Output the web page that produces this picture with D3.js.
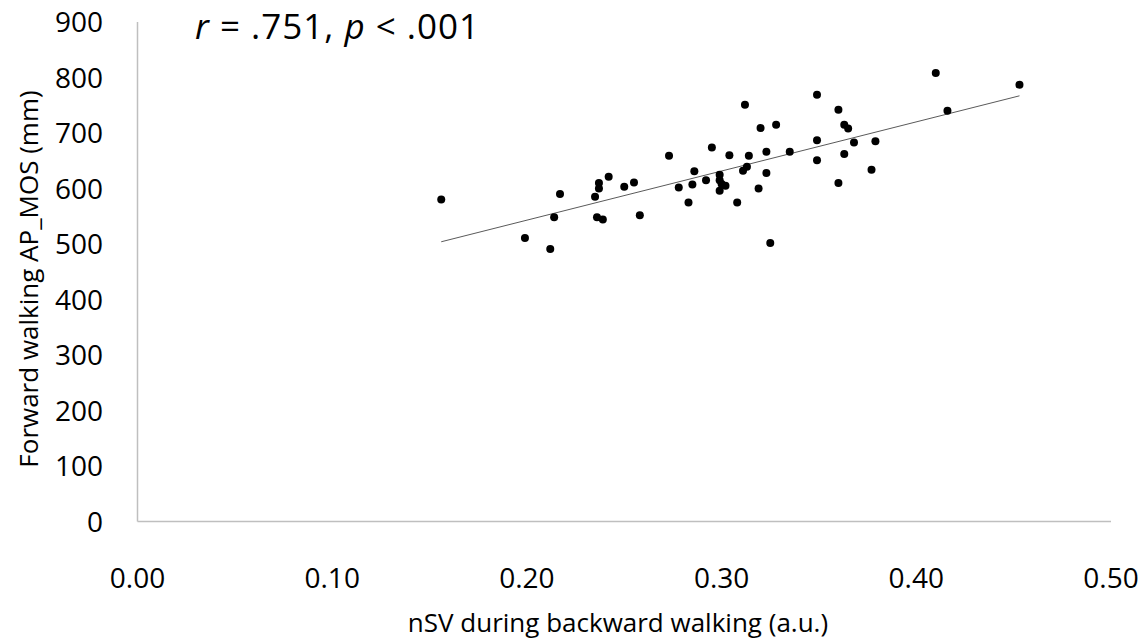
<!DOCTYPE html>
<html>
<head>
<meta charset="utf-8">
<script src="https://cdn.jsdelivr.net/npm/d3@7"></script>
<style>
  html, body { margin: 0; padding: 0; background: #fff; }
  text { font-family: "Open Sans", "Lato", sans-serif; fill: #000; }
</style>
</head>
<body>
<svg id="chart" width="1148" height="639"></svg>
<script>
// nSV during backward walking (a.u.)
const nsvValues = [0.156,0.199,0.212,0.214,0.217,0.235,0.236,0.237,0.237,0.239,0.242,0.250,0.255,0.258,0.273,0.278,0.283,0.285,0.286,0.292,0.295,0.299,0.299,0.300,0.302,0.299,0.304,0.308,0.311,0.312,0.313,0.314,0.319,0.320,0.323,0.323,0.325,0.328,0.335,0.349,0.349,0.349,0.360,0.360,0.363,0.363,0.365,0.368,0.377,0.379,0.410,0.416,0.453];
// Forward walking AP_MOS (mm)
const mosValues = [580,511,491,548,590,585,548,600,610,544,621,603,611,552,659,602,575,607,631,615,674,625,615,608,605,596,660,575,632,751,639,659,600,709,666,628,502,715,666,769,687,651,742,610,715,662,708,683,634,685,808,740,787];
// Linear trendline endpoints
const trendX = [0.156, 0.453];
const trendY = [504, 767];
const xTicks = [0, 0.1, 0.2, 0.3, 0.4, 0.5];
const yTicks = [0, 100, 200, 300, 400, 500, 600, 700, 800, 900];

const svg = d3.select("#chart");
const x = d3.scaleLinear().domain([0, 0.5]).range([137.5, 1111]);
const y = d3.scaleLinear().domain([0, 900]).range([521.5, 22]);

// axes lines
svg.append("line").attr("x1", x(0)).attr("x2", x(0)).attr("y1", y(900)).attr("y2", y(0))
  .attr("stroke", "#bfbfbf").attr("stroke-width", 1.5);
svg.append("line").attr("x1", x(0)).attr("x2", x(0.5)).attr("y1", y(0)).attr("y2", y(0))
  .attr("stroke", "#bfbfbf").attr("stroke-width", 1.5);

// tick labels
svg.selectAll("text.xt").data(xTicks).enter().append("text")
  .attr("class", "xt").attr("x", d => x(d)).attr("y", 588)
  .attr("text-anchor", "middle").attr("font-size", 28)
  .text(d => d3.format(".2f")(d));
svg.selectAll("text.yt").data(yTicks).enter().append("text")
  .attr("class", "yt").attr("x", 103).attr("y", d => y(d) + 10)
  .attr("text-anchor", "end").attr("font-size", 28)
  .text(d => d);

// axis titles
svg.append("text").attr("x", 618).attr("y", 632).attr("text-anchor", "middle")
  .attr("font-size", 26).text("nSV during backward walking (a.u.)");
svg.append("text").attr("transform", "translate(38,279) rotate(-90)")
  .attr("text-anchor", "middle").attr("font-size", 26).text("Forward walking AP_MOS (mm)");

// annotation
const ann = svg.append("text").attr("x", 195).attr("y", 39).attr("font-size", 35)
  .attr("letter-spacing", 1);
ann.append("tspan").attr("font-style", "italic").text("r");
ann.append("tspan").text(" = .751, ");
ann.append("tspan").attr("font-style", "italic").text("p");
ann.append("tspan").text(" < .001");

// trendline
svg.append("line").attr("x1", x(trendX[0])).attr("y1", y(trendY[0]))
  .attr("x2", x(trendX[1])).attr("y2", y(trendY[1]))
  .attr("stroke", "#5a5a5a").attr("stroke-width", 1);

// points
svg.selectAll("circle").data(nsvValues.map((v, i) => [v, mosValues[i]])).enter()
  .append("circle").attr("cx", d => x(d[0])).attr("cy", d => y(d[1]))
  .attr("r", 4).attr("fill", "#000");
</script>
</body>
</html>
